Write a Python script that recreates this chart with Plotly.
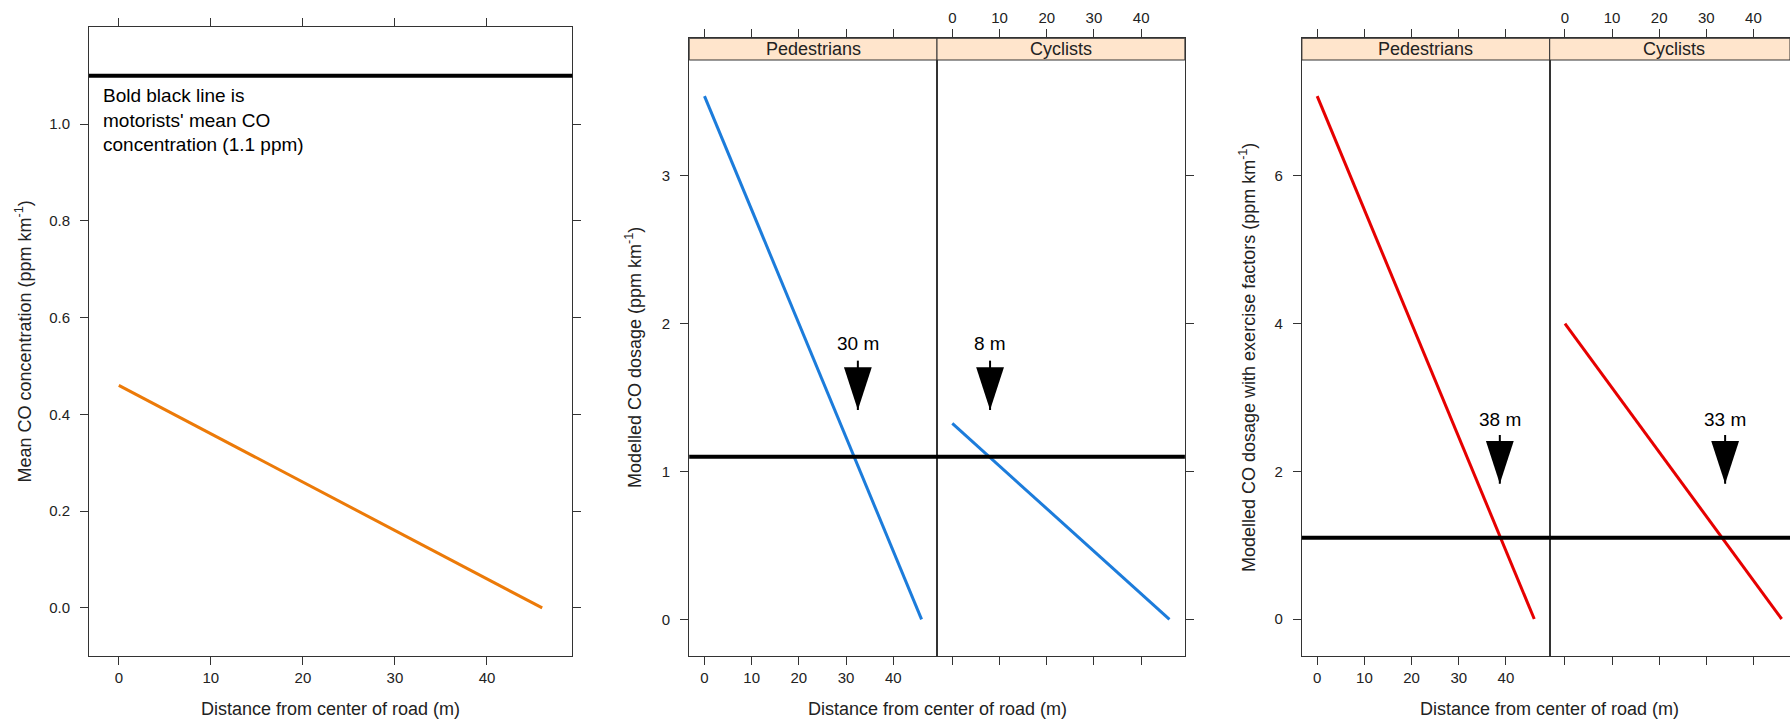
import plotly.graph_objects as go

# ---------------- data ----------------
distance = [0, 46]
mean_co = [0.46, 0.0]                 # panel 1 (orange)
dose_ped = [3.54, 0.0]                # panel 2 pedestrians (blue)
dose_cyc = [1.325, 0.0]               # panel 2 cyclists (blue)
dose_ex_ped = [7.08, 0.0]             # panel 3 pedestrians (red)
dose_ex_cyc = [4.0, 0.0]              # panel 3 cyclists (red)
motorist_mean = 1.1
strip_labels = ["Pedestrians", "Cyclists"]
x_ticks = [0, 10, 20, 30, 40]
y1_ticks = [0.0, 0.2, 0.4, 0.6, 0.8, 1.0]
y2_ticks = [0, 1, 2, 3]
y3_ticks = [0, 2, 4, 6]
arrow_x_dose = [32.5, 8.0]
arrow_lbl_dose = ["30 m", "8 m"]
arrow_x_ex = [38.7, 34.0]
arrow_lbl_ex = ["38 m", "33 m"]

# ---------------- layout helpers ----------------
W, H = 1790, 720
def px(p):
    return p / W
def py(p):
    return 1 - p / H

FONT = "Liberation Sans, Arial, Helvetica, sans-serif"
TXT = "#222222"
AX = "#333333"
ORANGE = "#EC7A08"
BLUE = "#1C7CDB"
RED = "#E60000"

fig = go.Figure()

def line(x, y, color, xa, ya):
    fig.add_trace(go.Scatter(x=x, y=y, mode="lines", line=dict(color=color, width=3),
                             xaxis=xa, yaxis=ya, showlegend=False, hoverinfo="skip"))

line(distance, mean_co, ORANGE, "x", "y")
line(distance, dose_ped, BLUE, "x2", "y2")
line(distance, dose_cyc, BLUE, "x3", "y3")
line(distance, dose_ex_ped, RED, "x4", "y4")
line(distance, dose_ex_cyc, RED, "x5", "y5")

annotations = []

def arrow(xv, lbl, xa, ya, y_label, y_tail, y_tip):
    fig.add_trace(go.Scatter(x=[xv, xv], y=[y_tail, y_tip], mode="lines",
                             line=dict(color="black", width=2),
                             xaxis=xa, yaxis=ya, showlegend=False, hoverinfo="skip"))
    fig.add_trace(go.Scatter(x=[xv], y=[y_tip], mode="markers",
                             marker=dict(symbol="arrow", angle=180, size=45, color="black",
                                         line=dict(width=0)),
                             xaxis=xa, yaxis=ya, showlegend=False, hoverinfo="skip"))
    annotations.append(dict(x=xv, y=y_label, xref=xa, yref=ya, text=lbl, showarrow=False,
                            font=dict(family=FONT, size=19, color="black"),
                            xanchor="center", yanchor="middle"))

arrow(arrow_x_dose[0], arrow_lbl_dose[0], "x2", "y2", 1.867, 1.75, 1.416)
arrow(arrow_x_dose[1], arrow_lbl_dose[1], "x3", "y3", 1.867, 1.75, 1.416)
arrow(arrow_x_ex[0], arrow_lbl_ex[0], "x4", "y4", 2.70, 2.49, 1.83)
arrow(arrow_x_ex[1], arrow_lbl_ex[1], "x5", "y5", 2.70, 2.49, 1.83)

# ---------------- axes ----------------
tickfont = dict(family=FONT, size=15, color=TXT)
common = dict(showgrid=False, zeroline=False, showline=True, linecolor=AX, linewidth=1,
              ticks="outside", ticklen=8, tickwidth=1, tickcolor=AX, tickfont=tickfont)
ycommon = dict(common, ticklabelstandoff=7)

XR = [-3.24, 49.27]
top1, top23, bot = 27.3, 38.3, 656.3

# panel column edges (pixels)
p1 = (89.0, 572.3)
p2 = (689.2, 937.0, 1184.9)
p3 = (1301.9, 1549.7, 1790.0)

layout_axes = dict(
    xaxis=dict(domain=[px(p1[0]), px(p1[1])], range=XR, anchor="y", side="bottom",
               mirror="ticks", tickvals=x_ticks, **common),
    yaxis=dict(domain=[py(bot), py(top1)], range=[-0.1, 1.2], anchor="x", side="left",
               mirror="ticks", tickvals=y1_ticks, tickformat=".1f", **ycommon),
    xaxis2=dict(domain=[px(p2[0]), px(p2[1])], range=XR, anchor="y2", side="bottom",
                mirror="ticks", tickvals=x_ticks, **common),
    yaxis2=dict(domain=[py(bot), py(top23)], range=[-0.2503, 3.931], anchor="x2", side="left",
                mirror=True, tickvals=y2_ticks, **ycommon),
    xaxis3=dict(domain=[px(p2[1]), px(p2[2])], range=XR, anchor="y3", side="top",
                mirror="ticks", tickvals=x_ticks, **common),
    yaxis3=dict(domain=[py(bot), py(top23)], range=[-0.2503, 3.931], anchor="x3", side="right",
                mirror=True, tickvals=y2_ticks, showticklabels=False, **common),
    xaxis4=dict(domain=[px(p3[0]), px(p3[1])], range=XR, anchor="y4", side="bottom",
                mirror="ticks", tickvals=x_ticks, **common),
    yaxis4=dict(domain=[py(bot), py(top23)], range=[-0.505, 7.863], anchor="x4", side="left",
                mirror=True, tickvals=y3_ticks, **ycommon),
    xaxis5=dict(domain=[px(p3[1]), px(p3[2])], range=[-3.24, 47.77], anchor="y5", side="top",
                mirror="ticks", tickvals=x_ticks, **common),
    yaxis5=dict(domain=[py(bot), py(top23)], range=[-0.505, 7.863], anchor="x5", side="right",
                mirror=True, tickvals=y3_ticks, showticklabels=False, **common),
)

# ---------------- shapes ----------------
shapes = []
for n in ["", "2", "3", "4", "5"]:
    shapes.append(dict(type="line", xref=f"x{n} domain", yref=f"y{n}", x0=0, x1=1,
                       y0=motorist_mean, y1=motorist_mean, line=dict(color="black", width=4),
                       layer="above"))

strip_top, strip_bot = 38.3, 60.0
panel_w = 247.8
for cols in (p2, p3):
    for i in range(2):
        shapes.append(dict(type="rect", xref="paper", yref="paper",
                           x0=px(cols[i]), x1=px(cols[i + 1]), y0=py(strip_bot), y1=py(strip_top),
                           fillcolor="#FFE5CC", line=dict(color=AX, width=1), layer="above"))
        annotations.append(dict(x=px(cols[i] + panel_w / 2),
                                y=py((strip_top + strip_bot) / 2), xref="paper", yref="paper",
                                text=strip_labels[i], showarrow=False,
                                font=dict(family=FONT, size=18, color=TXT),
                                xanchor="center", yanchor="middle"))

# ---------------- text annotations ----------------
annotations.append(dict(x=px(100.7), y=py(120), xref="paper", yref="paper",
                        text="Bold black line is<br>motorists' mean CO<br>concentration (1.1 ppm)",
                        align="left", xanchor="left", yanchor="middle", showarrow=False,
                        font=dict(family=FONT, size=19, color="black")))

title_font = dict(family=FONT, size=18, color=TXT)
xt_y = 709
for cx in (330.6, 937.0, 1549.7):
    annotations.append(dict(x=px(cx), y=py(xt_y), xref="paper", yref="paper",
                            text="Distance from center of road (m)", showarrow=False,
                            font=title_font, xanchor="center", yanchor="middle"))

for cx, cy, t in [(24, 341.6, "Mean CO concentration (ppm km<sup>-1</sup>)"),
                  (633, 358, "Modelled CO dosage (ppm km<sup>-1</sup>)"),
                  (1247, 358, "Modelled CO dosage with exercise factors (ppm km<sup>-1</sup>)")]:
    annotations.append(dict(x=px(cx), y=py(cy), xref="paper", yref="paper", text=t,
                            textangle=-90, showarrow=False, font=title_font,
                            xanchor="center", yanchor="middle"))

fig.update_layout(
    width=W, height=H,
    margin=dict(l=0, r=0, t=0, b=0, autoexpand=False),
    paper_bgcolor="white", plot_bgcolor="white",
    shapes=shapes, annotations=annotations,
    showlegend=False,
    **layout_axes,
)

fig.write_html("out.html",
               config={"displayModeBar": False},
               post_script="document.body.style.margin='0';document.body.style.overflow='hidden';")
